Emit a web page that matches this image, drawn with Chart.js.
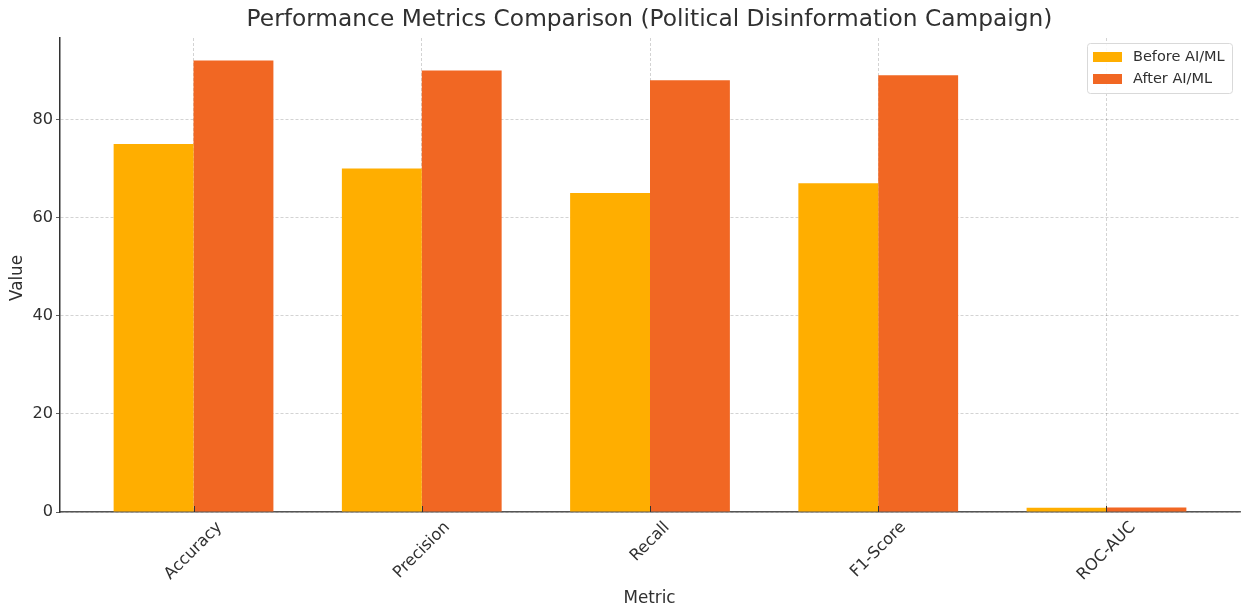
<!DOCTYPE html>
<html>
<head>
<meta charset="utf-8">
<script src="https://cdn.jsdelivr.net/npm/chart.js@4.4.1/dist/chart.umd.min.js"></script>
<style>
html,body{margin:0;padding:0;background:#fff;}
#wrap{width:1241px;height:609px;position:relative;}
</style>
</head>
<body>
<div id="wrap"><canvas id="c" width="1241" height="609"></canvas></div>
<script>
const chartTitle = "Performance Metrics Comparison (Political Disinformation Campaign)";
const categories = ["Accuracy", "Precision", "Recall", "F1-Score", "ROC-AUC"];
const beforeValues = [75, 70, 65, 67, 0.85];
const afterValues = [92, 90, 88, 89, 0.92];
const seriesLabels = ["Before AI/ML", "After AI/ML"];
const yTicks = [0, 20, 40, 60, 80];
const xTitle = "Metric";
const yTitle = "Value";

const FONT = "'DejaVu Sans', sans-serif";
const TEXT = "#303030";
const COLORS = ["#FFAE00", "#F16723"];
const GRID = "rgba(0,0,0,0.22)";

const toPoints = arr => arr.map((v, i) => ({x: i, y: v}));

const overlay = {
  id: 'overlay',
  afterDraw(chart) {
    const ctx = chart.ctx;
    const area = chart.chartArea;
    const xs = chart.scales.x;
    ctx.save();
    // Title
    ctx.fillStyle = TEXT;
    ctx.font = "23.3px " + FONT;
    ctx.textAlign = "center";
    ctx.textBaseline = "middle";
    ctx.fillText(chartTitle, 649.5, 20);
    // Axis titles
    ctx.font = "16.8px " + FONT;
    ctx.fillText(xTitle, 649.5, 599);
    ctx.save();
    ctx.translate(18, 278);
    ctx.rotate(-Math.PI / 2);
    ctx.fillText(yTitle, 0, 0);
    ctx.restore();
    // X tick marks (inward) and rotated labels
    ctx.strokeStyle = "#333";
    ctx.lineWidth = 1;
    categories.forEach((lab, i) => {
      const px = xs.getPixelForValue(i);
      ctx.beginPath();
      ctx.moveTo(Math.round(px) + 0.5, area.bottom);
      ctx.lineTo(Math.round(px) + 0.5, area.bottom - 6);
      ctx.stroke();
      ctx.font = "16.2px " + FONT;
      const w = ctx.measureText(lab).width;
      const h = 16.2;
      const W = (w + h) * Math.SQRT1_2;
      ctx.save();
      ctx.translate(px, 519 + W / 2);
      ctx.rotate(-Math.PI / 4);
      ctx.textAlign = "center";
      ctx.textBaseline = "middle";
      ctx.fillStyle = TEXT;
      ctx.fillText(lab, 0, 0);
      ctx.restore();
    });
    // Legend
    const lx = 1087, ly = 43.5, lw = 145, lh = 50;
    ctx.beginPath();
    ctx.roundRect(lx + 0.5, ly, lw, lh, 3);
    ctx.fillStyle = "rgba(255,255,255,0.85)";
    ctx.fill();
    ctx.strokeStyle = "#d9d9d9";
    ctx.lineWidth = 1;
    ctx.stroke();
    ctx.font = "14.5px " + FONT;
    ctx.textAlign = "left";
    ctx.textBaseline = "middle";
    seriesLabels.forEach((lab, i) => {
      const cy = 57 + i * 22;
      ctx.fillStyle = COLORS[i];
      ctx.fillRect(1093, cy - 5, 29, 10);
      ctx.fillStyle = TEXT;
      ctx.fillText(lab, 1133, cy);
    });
    ctx.restore();
  }
};

new Chart(document.getElementById('c'), {
  type: 'bar',
  data: {
    datasets: [
      {label: seriesLabels[0], data: toPoints(beforeValues), backgroundColor: COLORS[0], borderWidth: 0},
      {label: seriesLabels[1], data: toPoints(afterValues), backgroundColor: COLORS[1], borderWidth: 0}
    ]
  },
  options: {
    responsive: false,
    animation: false,
    devicePixelRatio: 1,
    layout: {padding: {top: 38, right: 1, left: 0, bottom: 0}},
    datasets: {bar: {categoryPercentage: 0.7, barPercentage: 1.0}},
    plugins: {legend: {display: false}, title: {display: false}, tooltip: {enabled: false}},
    scales: {
      x: {
        type: 'linear',
        min: -0.585,
        max: 4.585,
        offset: false,
        z: 1,
        afterBuildTicks: s => { s.ticks = categories.map((c, i) => ({value: i})); },
        afterFit: s => { s.height = 97; },
        ticks: {display: false},
        grid: {offset: false, color: GRID, lineWidth: 0.8, drawTicks: false, tickLength: 0},
        border: {display: true, color: "#555555", width: 1.5, dash: [3, 2]}
      },
      y: {
        type: 'linear',
        min: 0,
        max: 96.6,
        z: 1,
        afterBuildTicks: s => { s.ticks = yTicks.map(v => ({value: v})); },
        afterFit: s => { s.width = 60; },
        ticks: {color: TEXT, font: {family: FONT, size: 16.2}, padding: 3},
        grid: {color: GRID, lineWidth: 0.8, drawTicks: true, tickLength: 4, tickColor: "#333"},
        border: {display: true, color: "#333333", width: 1.5, dash: [3, 2]}
      }
    }
  },
  plugins: [overlay]
});
</script>
</body>
</html>
